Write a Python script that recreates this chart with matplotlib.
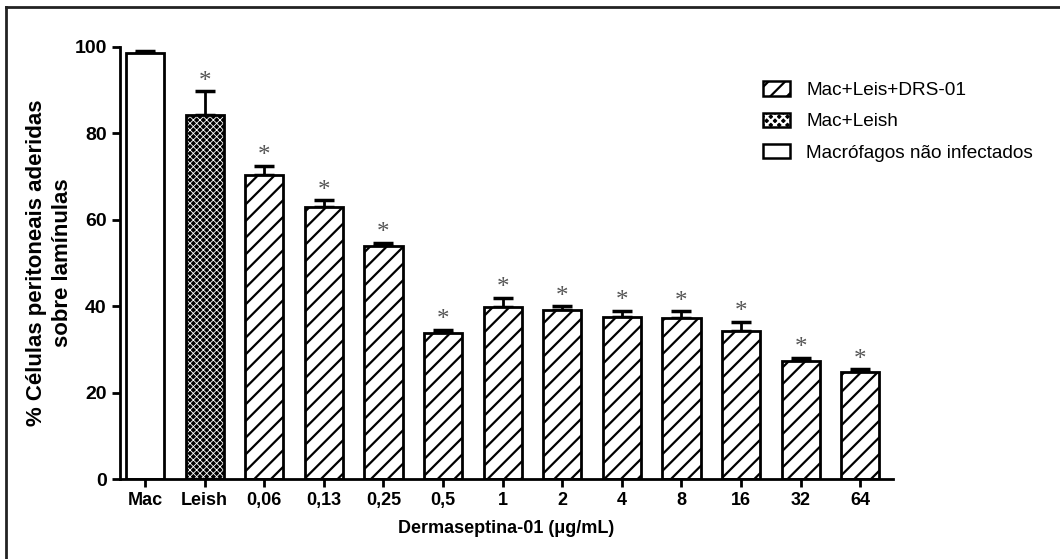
import matplotlib
matplotlib.use('Agg')
import matplotlib.pyplot as plt
from matplotlib.patches import Patch
from matplotlib.lines import Line2D
from matplotlib.legend_handler import HandlerTuple

plt.rcParams['font.family'] = ['Liberation Sans', 'DejaVu Sans']
plt.rcParams['hatch.linewidth'] = 1.6

labels = ['Mac', 'Leish', '0,06', '0,13', '0,25', '0,5', '1', '2', '4', '8', '16', '32', '64']
means = [98.7, 84.2, 70.3, 63.0, 53.9, 33.8, 39.8, 39.1, 37.5, 37.2, 34.2, 27.3, 24.8]
errs = [0.4, 5.5, 2.2, 1.5, 0.7, 0.7, 2.1, 0.9, 1.4, 1.6, 2.2, 0.8, 0.6]
signif = [False] + [True] * 12

fig = plt.figure(figsize=(10.6, 5.59), dpi=100)
ax = fig.add_axes([0.1132, 0.1431, 0.8425 - 0.1132, 0.916 - 0.1431])

x = list(range(len(labels)))
w = 0.64
ec = 'black'
lw = 2.0

# Mac (white)
ax.bar(x[0], means[0], width=w, color='white', edgecolor=ec, linewidth=lw, zorder=2)
# Leish (fine checker: black with white hatch, then outline)
with plt.rc_context({'hatch.linewidth': 0.6}):
    ax.bar(x[1], means[1], width=w, color='black', edgecolor='white', linewidth=0,
           hatch='xxxxx', zorder=2)
ax.bar(x[1], means[1], width=w, color='none', edgecolor=ec, linewidth=lw, zorder=3)
# DRS bars
ax.bar(x[2:], means[2:], width=w, color='white', edgecolor=ec, linewidth=lw, hatch='//', zorder=2)

# upper error bars only
ax.errorbar(x, means, yerr=[[0] * len(errs), errs], fmt='none', ecolor='black',
            elinewidth=2, capsize=7, capthick=2.5, zorder=1)

for xi, m, e, s in zip(x, means, errs, signif):
    if s:
        ax.annotate('*', (xi, m + e), xytext=(0, -1), textcoords='offset points',
                    ha='center', va='bottom', fontsize=18, color='#555555',
                    family='Liberation Serif')

ax.set_xlim(-0.42, 12.55)
ax.set_ylim(0, 100)
ax.set_yticks([0, 20, 40, 60, 80, 100])
ax.set_xticks(x)
ax.set_xticklabels(labels)
for sp in ['top', 'right']:
    ax.spines[sp].set_visible(False)
for sp in ['left', 'bottom']:
    ax.spines[sp].set_linewidth(2)
ax.tick_params(axis='both', direction='out', length=6, width=2)
ax.tick_params(axis='x', labelsize=13)
ax.tick_params(axis='y', labelsize=14)
for t in ax.get_xticklabels() + ax.get_yticklabels():
    t.set_fontweight('bold')

ax.set_xlabel('Dermaseptina-01 (\u03bcg/mL)', fontsize=13, fontweight='bold', labelpad=8)
ax.set_ylabel('% C\u00e9lulas peritoneais aderidas\nsobre lam\u00ednulas', fontsize=16,
              fontweight='bold', labelpad=1, linespacing=1.3)

with plt.rc_context({'hatch.linewidth': 0.6}):
    leish_fill = Patch(facecolor='black', edgecolor='white', hatch='xxxx', linewidth=0)
leish_edge = Patch(facecolor='none', edgecolor='black', linewidth=1.8)
handles = [
    Patch(facecolor='white', edgecolor='black', hatch='//', linewidth=1.8),
    (leish_fill, leish_edge),
    Patch(facecolor='white', edgecolor='black', linewidth=1.8),
]
leg = ax.legend(handles, ['Mac+Leis+DRS-01', 'Mac+Leish', 'Macr\u00f3fagos n\u00e3o infectados'],
                loc='upper left', bbox_to_anchor=(0.81, 0.96), frameon=False, fontsize=13.7,
                handlelength=1.4, handleheight=0.8, labelspacing=0.7, handletextpad=0.85,
                handler_map={tuple: HandlerTuple(ndivide=1, pad=0)})

# outer frame (top and left edges visible in the crop)
fig.add_artist(Line2D([0.0057, 1.0], [0.987, 0.987], transform=fig.transFigure, color='#222222', lw=2))
fig.add_artist(Line2D([0.0057, 0.0057], [0.0, 0.987], transform=fig.transFigure, color='#222222', lw=2))

fig.savefig('out.png', dpi=100)
